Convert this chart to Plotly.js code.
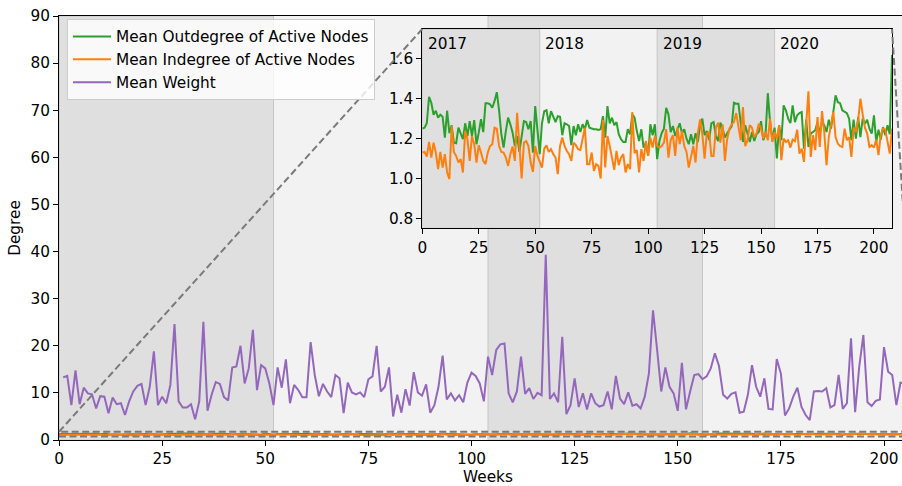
<!DOCTYPE html>
<html>
<head>
<meta charset="utf-8">
<script src="https://cdn.plot.ly/plotly-3.0.1.min.js"></script>
<style>
  html, body { margin: 0; padding: 0; overflow: hidden; background: #ffffff; }
  #chart { width: 931px; height: 486px; }
</style>
</head>
<body>
<div id="chart"></div>
<script>
// Weekly network statistics, weeks 0..208
const outdegree = [
  1.25,
  1.255,1.277,1.41,1.38,1.32,1.34,1.305,1.32,1.31,1.205,
  1.34,1.227,1.267,1.18,1.177,1.255,1.23,1.197,1.277,1.213,
  1.288,1.213,1.293,1.172,1.23,1.297,1.233,1.377,1.377,1.372,
  1.355,1.388,1.433,1.343,1.222,1.155,1.238,1.305,1.272,1.23,
  1.163,1.213,1.133,1.213,1.288,1.283,1.247,1.288,1.13,1.363,
  1.238,1.122,1.277,1.338,1.343,1.277,1.338,1.305,1.283,1.313,
  1.31,1.217,1.277,1.272,1.263,1.167,1.263,1.217,1.272,1.233,
  1.272,1.247,1.293,1.255,1.25,1.247,1.247,1.243,1.247,1.313,
  1.205,1.363,1.277,1.305,1.267,1.283,1.222,1.197,1.183,1.183,
  1.247,1.222,1.322,1.305,1.238,1.188,1.247,1.155,1.18,1.113,
  1.272,1.217,1.272,1.097,1.188,1.227,1.25,1.355,1.322,1.233,
  1.263,1.213,1.247,1.277,1.227,1.247,1.2,1.172,1.222,1.172,
  1.227,1.183,1.267,1.3,1.217,1.238,1.193,1.277,1.283,1.213,
  1.188,1.28,1.25,1.205,1.227,1.247,1.263,1.38,1.375,1.375,
  1.275,1.183,1.267,1.225,1.183,1.233,1.188,1.222,1.233,1.288,
  1.192,1.222,1.428,1.283,1.192,1.255,1.1,1.267,1.192,1.367,
  1.342,1.3,1.278,1.367,1.283,1.317,1.328,1.333,1.15,1.295,
  1.158,1.225,1.233,1.242,1.283,1.225,1.283,1.267,1.233,1.295,
  1.25,1.342,1.417,1.383,1.378,1.342,1.333,1.328,1.3,1.192,
  1.295,1.2,1.308,1.208,1.3,1.275,1.295,1.25,1.225,1.317,
  1.183,1.245,1.195,1.258,1.217,1.267,1.222,1.62
];

const indegree = [
  1.13,
  1.133,1.11,1.183,1.105,1.18,1.13,1.047,1.133,1.055,1.122,
  1.03,0.997,1.263,1.133,1.113,1.08,1.097,1.03,1.238,1.197,
  1.088,1.213,1.172,1.08,1.167,1.13,1.088,1.072,1.13,1.163,
  1.172,1.255,1.25,1.163,1.133,1.13,1.105,1.063,1.122,1.16,
  1.088,1.33,1.147,1.0,1.18,1.188,1.163,1.08,1.033,1.163,
  1.113,1.08,1.055,1.15,1.167,1.133,1.147,1.122,1.105,1.022,
  1.163,1.205,1.163,1.138,1.122,1.088,1.18,1.167,1.147,1.143,
  1.197,1.255,1.072,1.072,1.13,1.038,1.072,1.063,1.0,1.293,
  1.055,1.213,1.163,1.097,1.043,1.138,1.067,1.105,1.122,1.03,
  1.072,1.047,1.333,1.127,1.143,1.03,1.147,1.088,1.188,1.113,
  1.205,1.155,1.213,1.163,1.155,1.163,1.18,1.247,1.105,1.193,
  1.217,1.113,1.255,1.172,1.238,1.163,1.133,1.055,1.117,1.163,
  1.08,1.227,1.297,1.222,1.1,1.227,1.233,1.113,1.113,1.255,
  1.28,1.18,1.272,1.088,1.197,1.25,1.272,1.283,1.328,1.25,
  1.192,1.358,1.162,1.192,1.267,1.255,1.208,1.225,1.275,1.25,
  1.2,1.233,1.192,1.3,1.183,1.233,1.2,1.267,1.092,1.2,
  1.183,1.192,1.155,1.195,1.188,1.245,1.125,1.15,1.083,1.275,
  1.438,1.108,1.217,1.142,1.308,1.158,1.338,1.233,1.067,1.208,
  1.283,1.333,1.208,1.175,1.162,1.158,1.25,1.192,1.208,1.108,
  1.255,1.233,1.292,1.4,1.322,1.255,1.225,1.158,1.167,1.155,
  1.195,1.117,1.217,1.25,1.245,1.175,1.125,1.25
];

// Mean edge weight, weeks 1..205
const meanWeight = [
  13.3,13.6,7.4,14.8,7.6,11.1,9.9,9.7,6.7,9.3,
  9.2,5.7,9.0,7.6,7.8,5.3,8.2,10.3,11.5,11.9,
  7.4,11.3,18.8,7.4,9.2,7.8,11.7,24.6,8.2,6.9,
  6.9,7.6,4.4,8.2,25.1,6.2,9.6,12.3,11.9,9.1,
  8.4,15.4,15.6,20.0,12.0,15.2,23.4,10.6,15.9,15.2,
  12.0,7.4,15.4,11.1,17.1,7.8,11.7,10.6,9.1,9.1,
  20.8,13.8,9.3,11.9,10.3,9.1,13.8,13.1,5.7,12.2,
  10.1,9.7,10.1,9.1,12.9,13.5,20.0,10.3,11.3,15.4,
  5.0,9.6,5.8,10.8,7.3,14.4,10.1,9.4,11.8,5.8,
  7.4,11.3,17.9,8.6,9.9,8.4,9.5,8.0,12.2,14.3,
  13.6,12.0,8.2,17.7,13.8,19.1,20.3,20.5,9.9,8.0,
  10.3,17.7,9.8,11.0,8.7,10.0,9.5,39.3,8.7,9.9,
  8.0,21.9,5.5,7.4,13.1,7.0,9.9,6.5,9.9,7.8,
  7.1,7.4,10.3,6.5,13.6,8.8,7.6,10.1,7.3,7.6,
  6.7,9.2,14.1,27.5,19.1,10.3,15.4,11.3,9.9,6.2,
  16.4,6.5,10.3,13.8,14.0,12.9,13.5,15.2,18.4,15.7,
  9.6,8.8,9.8,10.1,5.8,6.0,9.6,15.9,11.3,9.2,
  13.1,6.6,6.5,17.2,14.1,5.2,6.7,9.2,11.1,7.0,
  5.3,4.2,10.3,10.4,10.3,11.0,6.9,7.4,13.8,6.6,
  7.8,21.6,5.9,15.6,22.3,8.0,7.2,8.3,8.6,19.7,
  14.5,13.8,7.4,12.2,11.9
];

const yearLabels = ['2017', '2018', '2019', '2020'];
const yearStarts = [0, 52, 104, 156];
const weeksPerYear = 52;
const shadedYears = [0, 2];

const seriesNames = ['Mean Outdegree of Active Nodes', 'Mean Indegree of Active Nodes', 'Mean Weight'];
const seriesColors = ['#2ca02c', '#ff7f0e', '#9467bd'];

const degreeWeeks = outdegree.map((_, i) => i);
const weightWeeks = meanWeight.map((_, i) => i + 1);

const mainX = [0, 208], mainY = [0, 90];
const zoomX = [0, 208], zoomY = [0.75, 1.75];
const insetDomX = [0.4234, 0.9709], insetDomY = [0.4993, 0.9693];

const FONT = 'DejaVu Sans, Arial, sans-serif';
const FS = 15.3;
const ZOOM_GREY = '#7a7a7a';
const BAND_FILL = '#dfdfdf', BAND_EDGE = '#c6c6c6';

// shaded year bands inside the zoomed axes, drawn first so the lines sit on top
const insetBands = shadedYears.map(i => {
  const s = yearStarts[i], e = s + weeksPerYear;
  return {
    x: [s, s, e, e, s], y: [zoomY[0], zoomY[1], zoomY[1], zoomY[0], zoomY[0]],
    xaxis: 'x2', yaxis: 'y2', mode: 'lines', fill: 'toself', fillcolor: BAND_FILL,
    line: { color: BAND_EDGE, width: 1 }, showlegend: false, hoverinfo: 'skip'
  };
});

const traces = [
  { x: degreeWeeks, y: outdegree, name: seriesNames[0], mode: 'lines',
    line: { color: seriesColors[0], width: 2 } },
  { x: degreeWeeks, y: indegree, name: seriesNames[1], mode: 'lines',
    line: { color: seriesColors[1], width: 2 } },
  { x: weightWeeks, y: meanWeight, name: seriesNames[2], mode: 'lines',
    line: { color: seriesColors[2], width: 2 } },
  ...insetBands,
  { x: degreeWeeks, y: outdegree, xaxis: 'x2', yaxis: 'y2', mode: 'lines', showlegend: false,
    line: { color: seriesColors[0], width: 2 } },
  { x: degreeWeeks, y: indegree, xaxis: 'x2', yaxis: 'y2', mode: 'lines', showlegend: false,
    line: { color: seriesColors[1], width: 2 } }
];

const shapes = [];
// shaded year bands in the main axes
shadedYears.forEach(i => {
  const s = yearStarts[i];
  shapes.push({ type: 'rect', xref: 'x', yref: 'y domain', x0: s, x1: s + weeksPerYear, y0: 0, y1: 1,
    fillcolor: BAND_FILL, line: { color: BAND_EDGE, width: 1 }, layer: 'below' });
});

// zoom indicator rectangle and connector lines
const dashStyle = '7px,3.5px';
shapes.push({ type: 'rect', xref: 'x', yref: 'y', x0: zoomX[0], x1: zoomX[1], y0: zoomY[0], y1: zoomY[1],
  line: { color: ZOOM_GREY, width: 2, dash: dashStyle }, layer: 'above' });
const fx = v => (v - mainX[0]) / (mainX[1] - mainX[0]);
const fy = v => (v - mainY[0]) / (mainY[1] - mainY[0]);
shapes.push({ type: 'line', xref: 'paper', yref: 'paper',
  x0: fx(zoomX[0]), y0: fy(zoomY[1]), x1: insetDomX[0], y1: insetDomY[1],
  line: { color: ZOOM_GREY, width: 2, dash: dashStyle }, layer: 'above' });
shapes.push({ type: 'line', xref: 'paper', yref: 'paper',
  x0: fx(zoomX[1]), y0: fy(zoomY[1]), x1: insetDomX[1], y1: insetDomY[1],
  line: { color: ZOOM_GREY, width: 2, dash: dashStyle }, layer: 'above' });

const annotations = yearLabels.map((t, i) => ({
  text: t, xref: 'x2', yref: 'y2', x: yearStarts[i] + 2, y: 1.675,
  xanchor: 'left', yanchor: 'middle', showarrow: false, xshift: -1,
  font: { family: FONT, size: FS, color: '#000' }
}));

const axisBase = {
  showline: true, linecolor: '#000', linewidth: 1, mirror: true,
  ticks: 'outside', ticklen: 5, tickwidth: 1, tickcolor: '#000',
  showgrid: false, zeroline: false,
  tickfont: { family: FONT, size: FS, color: '#000' }
};

const layout = {
  width: 931, height: 486,
  margin: { l: 59, r: 14, t: 16, b: 46 },
  paper_bgcolor: '#ffffff', plot_bgcolor: '#f2f2f2',
  font: { family: FONT, size: FS, color: '#000' },
  showlegend: true,
  legend: {
    x: 0.0093, y: 0.9929, xanchor: 'left', yanchor: 'top',
    bgcolor: 'rgba(255,255,255,0.8)', bordercolor: '#cccccc', borderwidth: 1,
    font: { family: FONT, size: FS, color: '#000' }, traceorder: 'normal', itemwidth: 38
  },
  xaxis: Object.assign({}, axisBase, {
    range: mainX, domain: [0, 1], anchor: 'y',
    tickvals: [0, 25, 50, 75, 100, 125, 150, 175, 200],
    title: { text: 'Weeks', font: { family: FONT, size: FS, color: '#000' }, standoff: 9 }
  }),
  yaxis: Object.assign({}, axisBase, {
    range: mainY, domain: [0, 1], anchor: 'x',
    tickvals: [0, 10, 20, 30, 40, 50, 60, 70, 80, 90],
    title: { text: 'Degree', font: { family: FONT, size: FS, color: '#000' }, standoff: 6 }
  }),
  xaxis2: Object.assign({}, axisBase, {
    range: zoomX, domain: insetDomX, anchor: 'y2',
    tickvals: [0, 25, 50, 75, 100, 125, 150, 175, 200]
  }),
  yaxis2: Object.assign({}, axisBase, {
    range: zoomY, domain: insetDomY, anchor: 'x2',
    tickvals: [0.8, 1.0, 1.2, 1.4, 1.6], ticktext: ['0.8', '1.0', '1.2', '1.4', '1.6']
  }),
  shapes: shapes,
  annotations: annotations
};

Plotly.newPlot('chart', traces, layout, { staticPlot: true, displayModeBar: false });
</script>
</body>
</html>
